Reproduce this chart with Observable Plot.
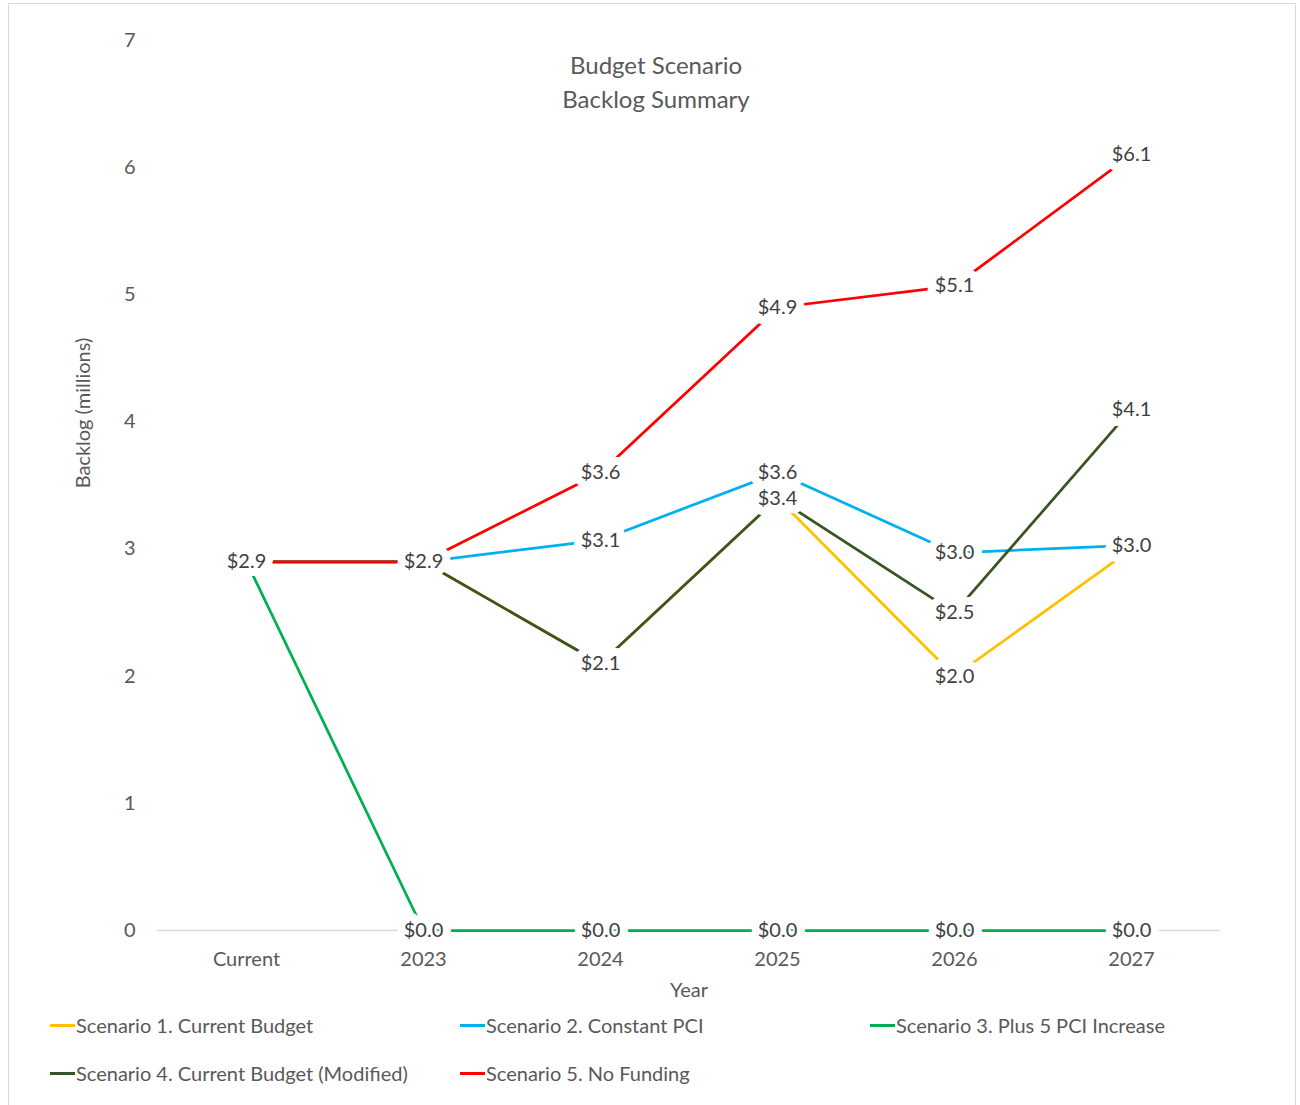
<!DOCTYPE html>
<html>
<head>
<meta charset="utf-8">
<script src="https://cdn.jsdelivr.net/npm/d3@7"></script>
<script src="https://cdn.jsdelivr.net/npm/@observablehq/plot@0.6"></script>
<style>
  html, body { margin: 0; padding: 0; background: #fff; }
  #wrap { position: relative; width: 1300px; height: 1105px; overflow: hidden; font-family: Lato, "Open Sans", sans-serif; color: #595959; }
  #border { position: absolute; left: 8px; top: 3px; width: 1288px; height: 1120px; border: 1px solid #d9d9d9; box-sizing: border-box; }
  #chart { position: absolute; left: 0; top: 0; }
  #title { position: absolute; left: 456px; width: 400px; top: 48px; text-align: center; font-size: 24px; line-height: 34px; }
  #ylabel { position: absolute; left: 82px; top: 413px; transform: translate(-50%, -50%) rotate(-90deg); font-size: 20px; white-space: nowrap; }
  .leg { position: absolute; font-size: 20px; line-height: 24px; white-space: nowrap; display: flex; align-items: center; }
  .sw { display: inline-block; width: 25px; height: 3px; margin-right: 1px; }
</style>
</head>
<body>
<div id="wrap">
  <div id="border"></div>
  <div id="chart"></div>
  <div id="title">Budget Scenario<br>Backlog Summary</div>
  <div id="ylabel">Backlog (millions)</div>
  <div id="legend"></div>
</div>
<script>
const years = ["Current", "2023", "2024", "2025", "2026", "2027"];
const scenarios = [
  "Scenario 1. Current Budget",
  "Scenario 2. Constant PCI",
  "Scenario 3. Plus 5 PCI Increase",
  "Scenario 4. Current Budget (Modified)",
  "Scenario 5. No Funding"
];
const colors = ["#FFC000", "#00B0F0", "#00B050", "#375623", "#FF0000"];
const s1 = [2.9, 2.9, 2.1, 3.4, 2.0, 3.0];
const s2 = [2.9, 2.9, 3.07, 3.6, 2.97, 3.03];
const s3 = [2.9, 0.0, 0.0, 0.0, 0.0, 0.0];
const s4 = [2.9, 2.9, 2.1, 3.4, 2.5, 4.1];
const s5 = [2.9, 2.9, 3.6, 4.9, 5.07, 6.1];
const yTicks = [0, 1, 2, 3, 4, 5, 6, 7];

const series = [s1, s2, s3, s4, s5];
const data = [];
scenarios.forEach((name, i) => series[i].forEach((v, j) => data.push({scenario: name, year: years[j], value: v})));

// data labels: identical labels at the same year are drawn once (they sit on top of each other)
const fmt = v => "$" + v.toFixed(1);
const seen = new Set();
const labels = [];
for (let i = data.length - 1; i >= 0; i--) {
  const d = data[i];
  const key = d.year + "|" + fmt(d.value);
  if (!seen.has(key)) { seen.add(key); labels.push(d); }
}

const chart = Plot.plot({
  width: 1300,
  height: 1005,
  marginLeft: 157,
  marginRight: 80,
  marginTop: 40,
  marginBottom: 75,
  style: {fontFamily: "Lato, 'Open Sans', sans-serif", fontSize: "20px", color: "#595959", background: "transparent"},
  x: {type: "point", domain: years, label: null, tickSize: 0, tickPadding: 21},
  y: {domain: [0, 7], ticks: yTicks, tickFormat: d => String(d), label: null, tickSize: 0, tickPadding: 22},
  color: {domain: scenarios, range: colors},
  marks: [
    Plot.ruleY([0], {stroke: "#d9d9d9", strokeWidth: 1.5}),
    Plot.line(data, {x: "year", y: "value", z: "scenario", stroke: "scenario", strokeWidth: 2.75}),
    Plot.text(labels, {x: "year", y: "value", text: d => fmt(d.value), fill: "#404040", stroke: "white", strokeWidth: 16, strokeLinejoin: "round", fontSize: 20}),
    Plot.text(["Year"], {frameAnchor: "bottom", dy: 66, fontSize: 20, fill: "#595959"})
  ]
});
document.getElementById("chart").appendChild(chart);

const legend = document.getElementById("legend");
const legPos = [[50, 1013], [460, 1013], [870, 1013], [50, 1061], [460, 1061]];
scenarios.forEach((name, i) => {
  const el = document.createElement("div");
  el.className = "leg";
  el.style.left = legPos[i][0] + "px";
  el.style.top = legPos[i][1] + "px";
  el.innerHTML = `<span class="sw" style="background:${colors[i]}"></span>${name}`;
  legend.appendChild(el);
});
</script>
</body>
</html>
